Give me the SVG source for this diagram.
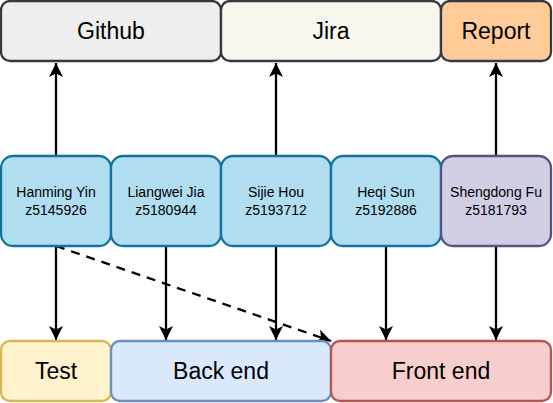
<svg xmlns="http://www.w3.org/2000/svg" width="553" height="403" viewBox="0 0 553 403">
<style>
.b{stroke-width:2.3}
.t{font-family:"Liberation Sans",Arial,sans-serif;font-size:23px;fill:#000;text-anchor:middle}
.s{font-family:"Liberation Sans",Arial,sans-serif;font-size:14px;fill:#000;text-anchor:middle}
.c{stroke:#000;stroke-width:2.3;fill:none}
</style>
<defs>
<marker id="ah" viewBox="-14 -7 14 14" refX="0" refY="0" markerWidth="14" markerHeight="14" markerUnits="userSpaceOnUse" orient="auto" overflow="visible">
<path d="M0,0 L-14,-7 L-10.5,0 L-14,7 Z" fill="#000"/>
</marker>
</defs>
<rect width="553" height="403" fill="#fff"/>
<g id="connectors">
<line class="c" x1="56" y1="156" x2="56" y2="63" marker-end="url(#ah)"/>
<line class="c" x1="276" y1="156" x2="276" y2="63" marker-end="url(#ah)"/>
<line class="c" x1="496" y1="156" x2="496" y2="63" marker-end="url(#ah)"/>
<line class="c" x1="56" y1="246" x2="56" y2="340" marker-end="url(#ah)"/>
<line class="c" x1="166" y1="246" x2="166" y2="340" marker-end="url(#ah)"/>
<line class="c" x1="276" y1="246" x2="276" y2="340" marker-end="url(#ah)"/>
<line class="c" x1="386" y1="246" x2="386" y2="340" marker-end="url(#ah)"/>
<line class="c" x1="496" y1="246" x2="496" y2="340" marker-end="url(#ah)"/>
<line class="c" x1="56" y1="246" x2="331" y2="341" stroke-dasharray="9,7" marker-end="url(#ah)"/>
</g>
<g id="github"><rect class="b" x="1" y="1" width="220" height="60" rx="9" fill="#eeeeee" stroke="#36393d"/><text class="t" x="111" y="39">Github</text></g>
<g id="jira"><rect class="b" x="221" y="1" width="220" height="60" rx="9" fill="#f9f7ed" stroke="#36393d"/><text class="t" x="331" y="39">Jira</text></g>
<g id="report"><rect class="b" x="441" y="1" width="110" height="60" rx="9" fill="#ffcc99" stroke="#36393d"/><text class="t" x="496" y="39">Report</text></g>
<g id="hanming"><rect class="b" x="1" y="156" width="110" height="90" rx="12" fill="#b1ddf0" stroke="#10739e"/><text class="s" x="56" y="197">Hanming Yin</text><text class="s" x="56" y="215">z5145926</text></g>
<g id="liangwei"><rect class="b" x="111" y="156" width="110" height="90" rx="12" fill="#b1ddf0" stroke="#10739e"/><text class="s" x="166" y="197">Liangwei Jia</text><text class="s" x="166" y="215">z5180944</text></g>
<g id="sijie"><rect class="b" x="221" y="156" width="110" height="90" rx="12" fill="#b1ddf0" stroke="#10739e"/><text class="s" x="276" y="197">Sijie Hou</text><text class="s" x="276" y="215">z5193712</text></g>
<g id="heqi"><rect class="b" x="331" y="156" width="110" height="90" rx="12" fill="#b1ddf0" stroke="#10739e"/><text class="s" x="386" y="197">Heqi Sun</text><text class="s" x="386" y="215">z5192886</text></g>
<g id="shengdong"><rect class="b" x="441" y="156" width="110" height="90" rx="12" fill="#d0cee2" stroke="#56517e"/><text class="s" x="496" y="197">Shengdong Fu</text><text class="s" x="496" y="215">z5181793</text></g>
<g id="test"><rect class="b" x="1" y="341" width="110" height="60" rx="9" fill="#fff2cc" stroke="#d6b656"/><text class="t" x="56" y="379">Test</text></g>
<g id="backend"><rect class="b" x="111" y="341" width="220" height="60" rx="9" fill="#dae8fc" stroke="#6c8ebf"/><text class="t" x="221" y="379">Back end</text></g>
<g id="frontend"><rect class="b" x="331" y="341" width="220" height="60" rx="9" fill="#f8cecc" stroke="#b85450"/><text class="t" x="441" y="379">Front end</text></g>
</svg>
